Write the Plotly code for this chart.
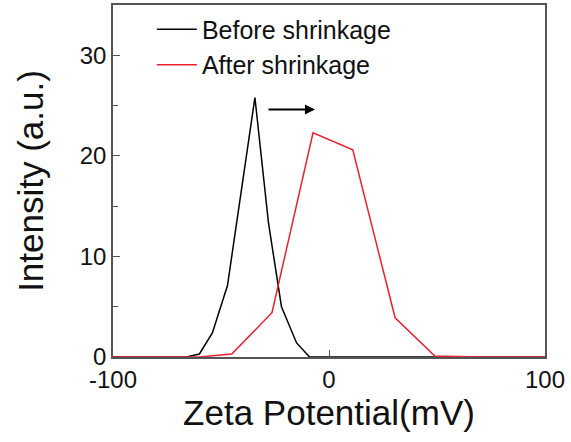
import plotly.graph_objects as go

before_x = [-100, -66, -60, -54, -47, -34.3, -28, -22, -15, -9, 100]
before_y = [0, 0, 0.3, 2.4, 7.1, 25.8, 13.3, 5.0, 1.4, 0, 0]

after_x = [-100, -60, -45, -26.4, -7.4, 11, 30.6, 49, 70, 100]
after_y = [0, 0, 0.3, 4.4, 22.3, 20.6, 3.9, 0.1, 0, 0]

series_names = ["Before shrinkage", "After shrinkage"]
x_ticks = [-100, 0, 100]
x_tick_labels = ["-100", "0", "100"]
y_ticks = [0, 10, 20, 30]

FONT = "Liberation Sans, Arial, sans-serif"
AX = "#555555"

fig = go.Figure()
fig.add_trace(go.Scatter(x=before_x, y=before_y, mode="lines", name=series_names[0],
                         line=dict(color="black", width=1.5)))
fig.add_trace(go.Scatter(x=after_x, y=after_y, mode="lines", name=series_names[1],
                         line=dict(color="#e8202f", width=1.5)))

fig.add_annotation(x=-6.5, y=24.6, ax=-28.7, ay=24.6, xref="x", yref="y", axref="x", ayref="y",
                   text="", showarrow=True, arrowhead=2, arrowsize=1, arrowwidth=2, arrowcolor="black")

fig.update_layout(
    width=571, height=442,
    margin=dict(l=113, r=26, t=5, b=85, autoexpand=False),
    paper_bgcolor="white", plot_bgcolor="white",
    font=dict(family=FONT, color="#111111"),
    showlegend=True,
    legend=dict(x=0.09, y=0.996, xanchor="left", yanchor="top", bgcolor="rgba(0,0,0,0)",
                font=dict(size=25, family=FONT, color="#111111"), tracegroupgap=0, itemwidth=40),
    xaxis=dict(range=[-100, 100], tickvals=x_ticks, ticktext=x_tick_labels, ticks="inside", ticklen=7, tickcolor=AX,
               showline=True, linecolor=AX, linewidth=1.5, mirror=True, showgrid=False, zeroline=False,
               automargin=False,
               tickfont=dict(size=24, family=FONT, color="#111111"),
               title=dict(text="Zeta Potential(mV)", font=dict(size=35, family=FONT, color="#111111"), standoff=8)),
    yaxis=dict(range=[0, 35], tickvals=y_ticks, ticks="inside", ticklen=7, tickcolor=AX,
               minor=dict(dtick=5, ticks="inside", ticklen=5, tickcolor=AX),
               showline=True, linecolor=AX, linewidth=1.5, mirror=True, showgrid=False, zeroline=False,
               automargin=False,
               tickfont=dict(size=24, family=FONT, color="#111111"),
               title=dict(text="Intensity (a.u.)", font=dict(size=35, family=FONT, color="#111111"), standoff=25)),
)

fig.write_html("out.html", config={"displayModeBar": False},
               post_script="document.body.style.margin='0';document.body.style.overflow='hidden';")
